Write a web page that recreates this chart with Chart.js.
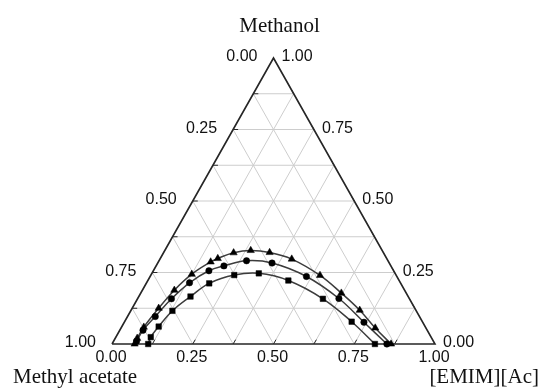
<!DOCTYPE html>
<html><head><meta charset="utf-8">
<script src="https://cdn.jsdelivr.net/npm/chart.js@4/dist/chart.umd.min.js"></script>
<style>html,body{margin:0;padding:0;background:#fff;}canvas{display:block;}</style>
</head><body>
<canvas id="c" width="541" height="389"></canvas>
<script>
// Component names (top, left, right vertices)
const topName = 'Methanol';
const leftName = 'Methyl acetate';
const rightName = '[EMIM][Ac]';
const tickValues = [0, 0.25, 0.5, 0.75, 1];
const tickLabels = ['0.00', '0.25', '0.50', '0.75', '1.00'];
const gridLevels = [0.125, 0.25, 0.375, 0.5, 0.625, 0.75, 0.875];
const minorTicks = [0.125, 0.25, 0.375, 0.5, 0.625, 0.75, 0.875];

// Series A (triangles): [EMIM][Ac] fraction and methanol fraction
const triIL   = [0.070, 0.068, 0.069, 0.082, 0.099, 0.125, 0.162, 0.178, 0.217, 0.266, 0.328, 0.408, 0.524, 0.621, 0.708, 0.787, 0.864];
const triMeOH = [0.000, 0.020, 0.059, 0.125, 0.188, 0.244, 0.287, 0.299, 0.319, 0.327, 0.320, 0.297, 0.240, 0.178, 0.118, 0.056, 0.000];
// Series B (circles)
const cirIL   = [0.071, 0.072, 0.086, 0.105, 0.133, 0.172, 0.210, 0.271, 0.354, 0.484, 0.623, 0.742, 0.851];
const cirMeOH = [0.010, 0.048, 0.096, 0.158, 0.214, 0.256, 0.273, 0.291, 0.283, 0.236, 0.159, 0.076, 0.000];
// Series C (squares)
const sqIL    = [0.112, 0.108, 0.114, 0.129, 0.160, 0.195, 0.258, 0.331, 0.435, 0.574, 0.703, 0.814];
const sqMeOH  = [0.000, 0.024, 0.061, 0.116, 0.166, 0.212, 0.241, 0.247, 0.222, 0.158, 0.078, 0.000];

// ternary (IL, MeOH) -> cartesian in scale units
function tp(il, m) { return { x: il + m / 2, y: m }; }
function series(ils, ms) { return ils.map((v, i) => tp(v, ms[i])); }

const datasets = [];
const gridStyle = { showLine: true, borderColor: '#cdcdcd', borderWidth: 1, pointRadius: 0, order: 10, clip: false };
gridLevels.forEach(c => {
  datasets.push(Object.assign({ data: [tp(0, c), tp(1 - c, c)] }, gridStyle));      // const methanol
  datasets.push(Object.assign({ data: [tp(c, 0), tp(c, 1 - c)] }, gridStyle));      // const IL
  datasets.push(Object.assign({ data: [tp(1 - c, 0), tp(0, 1 - c)] }, gridStyle));  // const methyl acetate
});
// triangle frame
datasets.push({ data: [tp(0, 0), tp(1, 0), tp(0, 1), tp(0, 0)], showLine: true, borderColor: '#262626', borderWidth: 1.6, pointRadius: 0, order: 9, clip: false });

function curve(ils, ms) {
  return { data: series(ils, ms), showLine: true, tension: 0.4, borderColor: '#3c3c3c', borderWidth: 1.5, pointRadius: 0, order: 5, clip: false };
}
function markers(ils, ms, style, r) {
  return { data: series(ils, ms), showLine: false, pointStyle: style, pointRadius: r, pointBackgroundColor: '#000', pointBorderColor: '#000', pointBorderWidth: 0.5, order: 1, clip: false };
}
datasets.push(curve(triIL, triMeOH), curve(cirIL, cirMeOH), curve(sqIL, sqMeOH));
datasets.push(markers(triIL, triMeOH, 'triangle', 4.2), markers(cirIL, cirMeOH, 'circle', 3.2), markers(sqIL, sqMeOH, 'rect', 3.9));

const labelPlugin = {
  id: 'ternaryLabels',
  afterDatasetsDraw(chart) {
    const ctx = chart.ctx, xs = chart.scales.x, ys = chart.scales.y;
    const P = (il, m) => { const q = tp(il, m); return [xs.getPixelForValue(q.x), ys.getPixelForValue(q.y)]; };
    ctx.save();
    // ticks
    ctx.strokeStyle = '#2a2a2a'; ctx.lineWidth = 1;
    const L = 5;
    const dirs = { left: [1, 0], bottom: [0.5, -0.866], right: [-0.5, -0.866] };
    minorTicks.forEach(v => {
      let p = P(0, 1 - v); ctx.beginPath(); ctx.moveTo(p[0], p[1]); ctx.lineTo(p[0] + L * dirs.left[0], p[1] + L * dirs.left[1]); ctx.stroke();
      p = P(v, 0); ctx.beginPath(); ctx.moveTo(p[0], p[1]); ctx.lineTo(p[0] + L * dirs.bottom[0], p[1] + L * dirs.bottom[1]); ctx.stroke();
      p = P(1 - v, v); ctx.beginPath(); ctx.moveTo(p[0], p[1]); ctx.lineTo(p[0] + L * dirs.right[0], p[1] + L * dirs.right[1]); ctx.stroke();
    });
    // tick labels
    ctx.fillStyle = '#111';
    ctx.font = '16px "Liberation Sans", Arial, sans-serif';
    ctx.textBaseline = 'middle';
    tickValues.forEach((v, i) => {
      // left axis: methyl acetate (1 at bottom-left)
      let p = P(0, 1 - v);
      ctx.textAlign = 'right'; ctx.fillText(tickLabels[i], p[0] - 16, p[1] - 1);
      // right axis: methanol
      p = P(1 - v, v);
      ctx.textAlign = 'left'; ctx.fillText(tickLabels[i], p[0] + 8, p[1] - 1);
      // bottom axis: IL
      p = P(v, 0);
      ctx.textAlign = 'center'; ctx.textBaseline = 'top'; ctx.fillText(tickLabels[i], p[0] - 1, p[1] + 6); ctx.textBaseline = 'middle';
    });
    // component titles
    ctx.font = '21px "Liberation Serif", "Times New Roman", serif';
    ctx.textBaseline = 'alphabetic';
    let p = P(0, 1);
    ctx.textAlign = 'center'; ctx.fillText(topName, p[0] + 6, p[1] - 26);
    p = P(0, 0);
    ctx.textAlign = 'left'; ctx.fillText(leftName, p[0] - 99, p[1] + 39);
    p = P(1, 0);
    ctx.textAlign = 'right'; ctx.fillText(rightName, p[0] + 104, p[1] + 39);
    ctx.restore();
  }
};

new Chart(document.getElementById('c'), {
  type: 'scatter',
  data: { datasets },
  options: {
    responsive: false,
    animation: false,
    events: [],
    layout: { padding: { left: 112, right: 106, top: 58, bottom: 45 } },
    scales: {
      x: { type: 'linear', min: 0, max: 1, display: false },
      y: { type: 'linear', min: 0, max: 1, display: false }
    },
    plugins: { legend: { display: false }, tooltip: { enabled: false } }
  },
  plugins: [labelPlugin]
});
</script>
</body></html>
